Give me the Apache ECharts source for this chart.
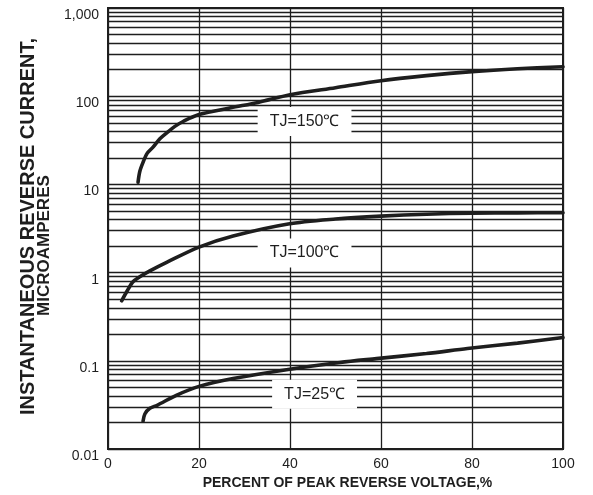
<!DOCTYPE html>
<html>
<head>
<meta charset="utf-8">
<script src="https://cdn.jsdelivr.net/npm/echarts@6/dist/echarts.min.js"></script>
<style>
html, body { margin: 0; padding: 0; background: #fff; }
#main { width: 593px; height: 495px; }
</style>
</head>
<body>
<div id="main"></div>
<script>
// 反向电流曲线 (percent of peak reverse voltage vs current, uA)
var xTicks = [0, 20, 40, 60, 80, 100];
var yTickLabels = ['0.01', '0.1', '1', '10', '100', '1,000'];

var curve150 = [[6.6, 10.6], [7.0, 14.1], [7.7, 17.8], [8.6, 22.5], [9.9, 26.5], [11.4, 33],
    [13, 38.8], [14.7, 45.5], [16.5, 51.7], [20, 62], [27, 74], [33, 85], [40, 104], [50, 125],
    [60, 150], [70, 171], [80, 190], [90, 205], [100, 216]];
var curve100 = [[3, 0.48], [4.2, 0.62], [5.5, 0.79], [7, 0.9], [9.2, 1.05], [13, 1.32],
    [20, 1.95], [27.5, 2.6], [39.6, 3.56], [50, 4.05], [60, 4.37], [70, 4.6], [80, 4.73],
    [90, 4.76], [100, 4.78]];
var curve25 = [[7.7, 0.0207], [8.1, 0.025], [9.2, 0.029], [10.8, 0.0314], [15, 0.0407],
    [20, 0.0514], [27.5, 0.063], [39.6, 0.08], [51, 0.096], [59, 0.106], [70, 0.121],
    [79, 0.138], [90, 0.159], [100, 0.184]];

// curve labels (anchored in data coordinates)
var tagNames = ['TJ=150℃', 'TJ=100℃', 'TJ=25℃'];
var tagX = [43.2, 43.2, 45.4];
var tagY = [51.6, 1.67, 0.0418];

// log minor grid: 2..9 of each decade
var minorGrid = [];
[0.01, 0.1, 1, 10, 100].forEach(function (d) {
    for (var k = 2; k <= 9; k++) minorGrid.push({ yAxis: d * k });
});

var ink = '#1e1e1e';
var font = 'Arial, "Liberation Sans", Helvetica, sans-serif';

var myChart = echarts.init(document.getElementById('main'));

function curveSeries(data) {
    return {
        type: 'line',
        data: data,
        smooth: 0.3,
        showSymbol: false,
        symbol: 'none',
        z: 5,
        lineStyle: { color: ink, width: 3.6, cap: 'round' },
        silent: true
    };
}

myChart.setOption({
    animation: false,
    grid: {
        left: 108,
        right: 30,
        top: 8,
        bottom: 44,
        show: true,
        borderColor: ink,
        borderWidth: 2,
        backgroundColor: 'transparent'
    },
    xAxis: {
        type: 'value',
        min: xTicks[0],
        max: xTicks[xTicks.length - 1],
        interval: 20,
        name: 'PERCENT OF PEAK REVERSE VOLTAGE,%',
        nameLocation: 'middle',
        nameGap: 26,
        nameTextStyle: {
            fontFamily: font, fontWeight: 'bold', fontSize: 14, color: ink,
            padding: [0, 0, 0, 24]
        },
        axisLine: { show: true, lineStyle: { color: ink, width: 2 } },
        axisTick: { show: false },
        axisLabel: {
            margin: 8, fontFamily: font, fontSize: 14, color: ink, verticalAlign: 'top'
        },
        splitLine: { show: true, lineStyle: { color: ink, width: 1.3 } }
    },
    yAxis: {
        type: 'log',
        logBase: 10,
        min: 0.01,
        max: 1000,
        name: '{a|INSTANTANEOUS REVERSE CURRENT,}\n{b|MICROAMPERES}',
        nameLocation: 'middle',
        nameRotate: 90,
        nameGap: 49,
        nameTextStyle: {
            fontFamily: font, fontWeight: 'bold', color: ink,
            rich: {
                a: { fontFamily: font, fontWeight: 'bold', fontSize: 20, color: ink, lineHeight: 18,
                     padding: [0, 0, 0, 4] },
                b: { fontFamily: font, fontWeight: 'bold', fontSize: 17, color: ink, lineHeight: 14,
                     padding: [0, 34, 0, 0] }
            }
        },
        axisLine: { show: true, lineStyle: { color: ink, width: 2 } },
        axisTick: { show: false },
        axisLabel: {
            margin: 9, fontFamily: font, fontSize: 14, color: ink, verticalAlign: 'top',
            formatter: function (v) {
                return yTickLabels[Math.round(Math.log10(v)) + 2];
            }
        },
        splitLine: { show: true, lineStyle: { color: ink, width: 1.3 } }
    },
    series: [
        {
            // minor grid lines
            type: 'line',
            data: [],
            z: 1,
            silent: true,
            markLine: {
                z: 1,
                silent: true,
                symbol: 'none',
                label: { show: false },
                animation: false,
                lineStyle: { color: ink, width: 1.3, type: 'solid' },
                data: minorGrid
            }
        },
        {
            // curve tags with white boxes over the grid
            type: 'scatter',
            z: 3,
            symbolSize: 0,
            silent: true,
            itemStyle: { opacity: 1 },
            data: tagNames.map(function (n, i) { return { value: [tagX[i], tagY[i]], name: n }; }),
            label: {
                show: true,
                position: 'inside',
                formatter: '{b}',
                fontFamily: font,
                fontSize: 16,
                color: ink,
                backgroundColor: '#fff',
                padding: [7, 12, 6, 12]
            }
        },
        curveSeries(curve150),
        curveSeries(curve100),
        curveSeries(curve25)
    ]
});

window.onresize = function () {
    myChart.resize();
};
</script>
</body>
</html>
